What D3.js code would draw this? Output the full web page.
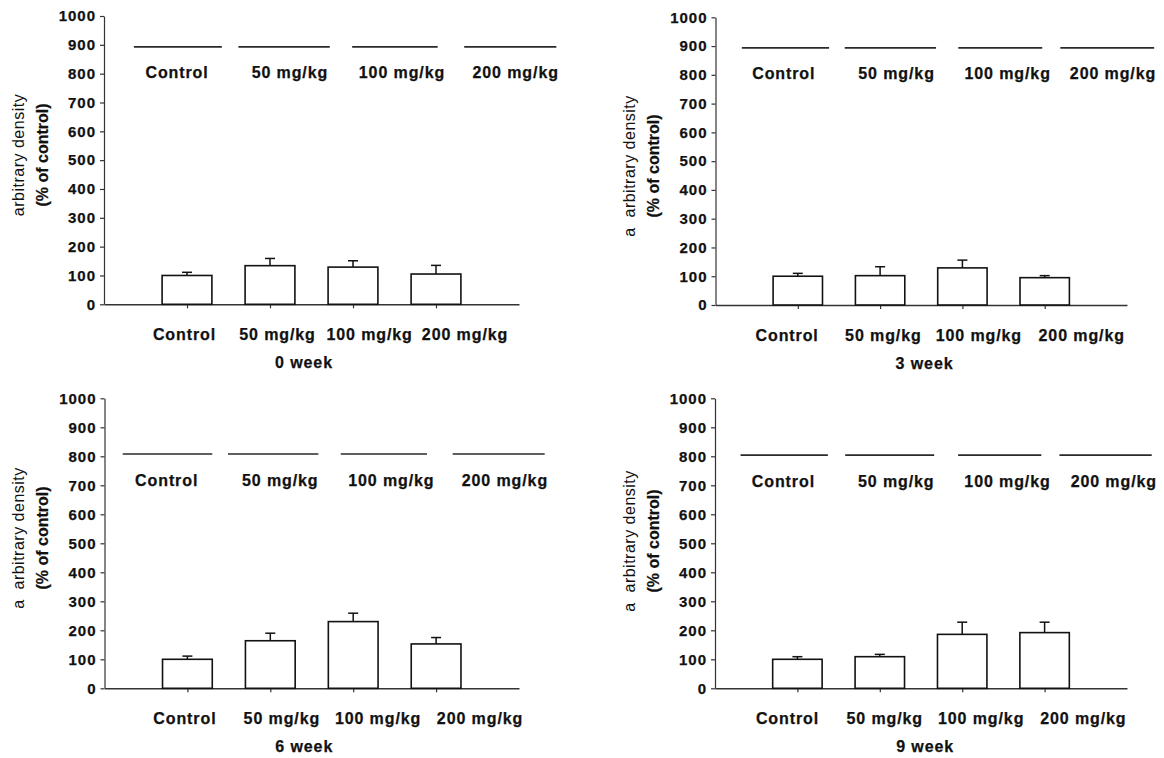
<!DOCTYPE html>
<html>
<head>
<meta charset="utf-8">
<script src="https://cdn.jsdelivr.net/npm/d3@7/dist/d3.min.js"></script>
<style>
  html, body { margin: 0; padding: 0; background: #fff; }
  svg { display: block; }
  text { font-family: "Liberation Sans", Arial, sans-serif; fill: #111; }
</style>
</head>
<body>
<svg id="chart" width="1164" height="758"></svg>
<script>
// ---- data ----
const weeks = ["0 week", "3 week", "6 week", "9 week"];
const groups = ["Control", "50 mg/kg", "100 mg/kg", "200 mg/kg"];
const yTicks = [0, 100, 200, 300, 400, 500, 600, 700, 800, 900, 1000];

// mean arbitrary density (% of control) per group
const week0Mean = [100, 134, 129, 105];
const week3Mean = [100, 102, 129, 95];
const week6Mean = [100, 164, 230, 153];
const week9Mean = [100, 109, 186, 192];

// upper error (SEM) per group
const week0Err = [11, 25, 22, 30];
const week3Err = [10, 31, 27, 7];
const week6Err = [11, 26, 29, 22];
const week9Err = [9, 8, 42, 36];

// level of the group key line drawn across the top of each panel
const keyLevel = [893, 894, 808, 804];

const yTitles = ["arbitrary density", "a  arbitrary density", "a  arbitrary density", "a  arbitrary density"];

const means = [week0Mean, week3Mean, week6Mean, week9Mean];
const errs = [week0Err, week3Err, week6Err, week9Err];

// ---- layout (pixel frame of each panel, and label placement in x-scale units) ----
const frames = [
  { left: 104,   right: 519,  top: 16,    bottom: 304.3, titleY: 155 },
  { left: 715.5, right: 1127, top: 17.3,  bottom: 305,   titleY: 166 },
  { left: 104.5, right: 519,  top: 398.3, bottom: 688.3, titleY: 538 },
  { left: 715,   right: 1127, top: 398.3, bottom: 688.3, titleY: 541 }
];
const keySpans = [
  [[0.36, 1.42], [1.62, 2.72], [2.99, 4.02], [4.34, 5.45]],
  [[0.32, 1.38], [1.57, 2.68], [2.95, 3.97], [4.19, 5.33]],
  [[0.22, 1.30], [1.49, 2.58], [2.85, 3.89], [4.20, 5.31]],
  [[0.31, 1.37], [1.58, 2.66], [2.95, 3.96], [4.18, 5.30]]
];
const keyLabelAt = [
  [0.88, 2.24, 3.59, 4.96],
  [0.83, 2.20, 3.55, 4.83],
  [0.75, 2.12, 3.46, 4.83],
  [0.83, 2.20, 3.55, 4.84]
];
const groupLabelAt = [
  [0.97, 2.09, 3.20, 4.35],
  [0.87, 2.04, 3.20, 4.45],
  [0.97, 2.14, 3.30, 4.53],
  [0.88, 2.06, 3.23, 4.47]
];
const titleAt = [2.41, 2.54, 2.41, 2.55];

const svg = d3.select("#chart");
const ink = "#121212";

function boldLabel(sel) {
  return sel.attr("font-size", 16).attr("font-weight", "bold")
    .attr("letter-spacing", 0.9)
    .attr("stroke", ink).attr("stroke-width", 0.25);
}

weeks.forEach((week, p) => {
  const f = frames[p];
  const x = d3.scaleLinear().domain([0, 5]).range([f.left, f.right]);
  const y = d3.scaleLinear().domain([0, 1000]).range([f.bottom, f.top]);
  const step = x(1) - x(0);
  const barW = step * 0.6;
  const g = svg.append("g");

  // y axis
  const yAxis = g.append("g")
    .attr("transform", `translate(${f.left},0)`)
    .call(d3.axisLeft(y).tickValues(yTicks).tickFormat(d3.format("d"))
      .tickSize(4).tickSizeOuter(0).tickPadding(4));
  yAxis.select(".domain").attr("stroke", "#333").attr("stroke-width", 1.2);
  yAxis.selectAll(".tick line").attr("stroke", "#333").attr("stroke-width", 1.2);
  yAxis.selectAll(".tick text")
    .attr("font-size", 15).attr("font-weight", "bold")
    .attr("letter-spacing", 1).attr("fill", ink)
    .attr("stroke", ink).attr("stroke-width", 0.25)
    .style("font-family", '"Liberation Sans", Arial, sans-serif');

  // x axis baseline with ticks at each group
  const xAxis = g.append("g")
    .attr("transform", `translate(0,${f.bottom})`)
    .call(d3.axisBottom(x).tickValues([1, 2, 3, 4]).tickFormat("")
      .tickSize(4).tickSizeOuter(0));
  xAxis.select(".domain").attr("stroke", "#333").attr("stroke-width", 1.5);
  xAxis.selectAll(".tick line").attr("stroke", "#333").attr("stroke-width", 1.2);

  // bars
  g.selectAll("rect.bar").data(means[p]).join("rect")
    .attr("class", "bar")
    .attr("x", (d, i) => x(i + 1) - barW / 2)
    .attr("y", d => y(d))
    .attr("width", barW)
    .attr("height", d => y(0) - y(d))
    .attr("fill", "#fff")
    .attr("stroke", ink)
    .attr("stroke-width", 1.6);

  // upper error bars
  const capW = 10;
  const eb = g.selectAll("g.err").data(means[p].map((m, i) => ({ m, e: errs[p][i], i })))
    .join("g").attr("class", "err");
  eb.append("line")
    .attr("x1", d => x(d.i + 1)).attr("x2", d => x(d.i + 1))
    .attr("y1", d => y(d.m)).attr("y2", d => y(d.m + d.e))
    .attr("stroke", ink).attr("stroke-width", 1.5);
  eb.append("line")
    .attr("x1", d => x(d.i + 1) - capW / 2).attr("x2", d => x(d.i + 1) + capW / 2)
    .attr("y1", d => y(d.m + d.e)).attr("y2", d => y(d.m + d.e))
    .attr("stroke", ink).attr("stroke-width", 1.5);

  // group key along the top
  g.selectAll("line.key").data(keySpans[p]).join("line")
    .attr("class", "key")
    .attr("x1", d => x(d[0])).attr("x2", d => x(d[1]))
    .attr("y1", y(keyLevel[p])).attr("y2", y(keyLevel[p]))
    .attr("stroke", "#2a2a2a").attr("stroke-width", 1.7);
  g.selectAll("text.key").data(groups).join("text")
    .attr("class", "key")
    .attr("x", (d, i) => x(keyLabelAt[p][i]))
    .attr("y", y(keyLevel[p]) + 26)
    .attr("dy", "0.35em")
    .attr("text-anchor", "middle")
    .call(boldLabel)
    .text(d => d);

  // group labels under the axis
  g.selectAll("text.grp").data(groups).join("text")
    .attr("class", "grp")
    .attr("x", (d, i) => x(groupLabelAt[p][i]))
    .attr("y", f.bottom + 30.5)
    .attr("dy", "0.35em")
    .attr("text-anchor", "middle")
    .call(boldLabel)
    .text(d => d);

  // panel title
  g.append("text")
    .attr("x", x(titleAt[p]))
    .attr("y", f.bottom + 58)
    .attr("dy", "0.35em")
    .attr("text-anchor", "middle")
    .call(boldLabel)
    .text(week);

  // y axis title, two rotated lines
  g.append("text")
    .attr("transform", `translate(${f.left - 86},${f.titleY}) rotate(-90)`)
    .attr("dy", "0.35em")
    .attr("text-anchor", "middle")
    .attr("font-size", 16).attr("letter-spacing", 0.5)
    .style("white-space", "pre")
    .text(yTitles[p]);
  g.append("text")
    .attr("transform", `translate(${f.left - 62},${f.titleY}) rotate(-90)`)
    .attr("dy", "0.35em")
    .attr("text-anchor", "middle")
    .attr("font-size", 16).attr("font-weight", "bold")
    .attr("stroke", ink).attr("stroke-width", 0.25)
    .text("(% of control)");
});
</script>
</body>
</html>
